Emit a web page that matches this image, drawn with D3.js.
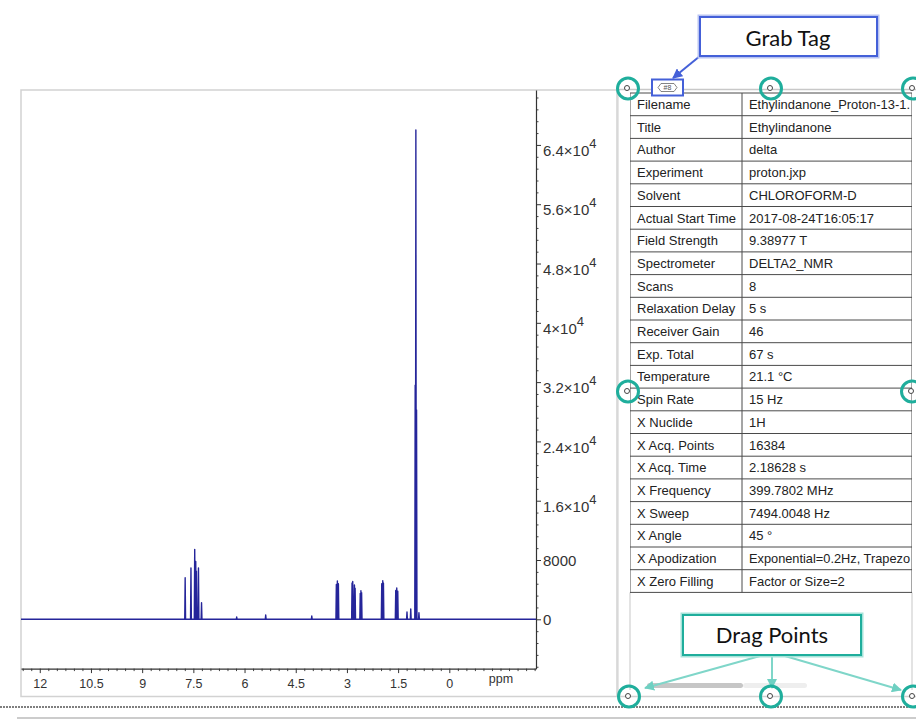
<!DOCTYPE html>
<html>
<head>
<meta charset="utf-8">
<script src="https://cdn.jsdelivr.net/npm/d3@7"></script>
<style>
	body { margin: 0; background: #fff; }
	svg { display: block; }
</style>
</head>
<body>
<svg id="chart" width="916" height="720"></svg>
<script>
"use strict"

// peak list (ppm, intensity)
var peakPpm = [7.74, 7.57, 7.46, 7.43, 7.41, 7.35, 7.26, 6.23, 5.38, 4.03,
	3.31, 3.28, 3.25, 2.85, 2.83, 2.78, 2.76, 2.61, 2.59, 2.57,
	1.98, 1.95, 1.93, 1.57, 1.54, 1.51, 1.24, 1.13, 1.00, 0.98, 0.96, 0.89];
var peakHeight = [5610, 6920, 9440, 7800, 6500, 6920, 2240, 310, 580, 445,
	4700, 5170, 4800, 4900, 5100, 4630, 4200, 3500, 3860, 3600,
	4800, 5210, 4900, 3900, 4220, 3800, 985, 1390, 31600, 66020, 28240, 890];

var xTickValues = [12, 10.5, 9, 7.5, 6, 4.5, 3, 1.5, 0, -1.5];
var xTickLabels = ["12", "10.5", "9", "7.5", "6", "4.5", "3", "1.5", "0", "ppm"];
var yTickValues = [0, 8000, 16000, 24000, 32000, 40000, 48000, 56000, 64000];
var yTickMantissa = ["0", "8000", "1.6", "2.4", "3.2", "4", "4.8", "5.6", "6.4"];
var yTickExponent = ["", "", "4", "4", "4", "4", "4", "4", "4"];

// table as far as it is visible in the panel
var paramNames = ["Filename", "Title", "Author", "Experiment", "Solvent", "Actual Start Time",
	"Field Strength", "Spectrometer", "Scans", "Relaxation Delay", "Receiver Gain", "Exp. Total",
	"Temperature", "Spin Rate", "X Nuclide", "X Acq. Points", "X Acq. Time", "X Frequency",
	"X Sweep", "X Angle", "X Apodization", "X Zero Filling"];
var paramValues = ["Ethylindanone_Proton-13-1.", "Ethylindanone", "delta", "proton.jxp",
	"CHLOROFORM-D", "2017-08-24T16:05:17", "9.38977 T", "DELTA2_NMR", "8", "5 s", "46", "67 s",
	"21.1 \u00B0C", "15 Hz", "1H", "16384", "2.18628 s", "399.7802 MHz", "7494.0048 Hz", "45 \u00B0",
	"Exponential=0.2Hz, Trapezo", "Factor or Size=2"];

var svg = d3.select("#chart");
var font = "'Liberation Sans', Arial, sans-serif";
var teal = "#1fae9c";
var blue = "#4460d8";

var plotLeft = 21, plotRight = 536, plotTop = 90, axisY = 668.6;

var x = d3.scaleLinear().domain([12.55, -2.54]).range([plotLeft, plotRight]);
var y = d3.scaleLinear().domain([-6650, 71410]).range([axisY, plotTop]);

// frame around the plot
svg.append("rect")
	.attr("x", 21).attr("y", 90)
	.attr("width", 596).attr("height", 606.5)
	.attr("fill", "none")
	.attr("stroke", "#d2d2d2")
	.attr("stroke-width", 1.5)
	;
svg.append("line")
	.attr("x1", 617).attr("x2", 916).attr("y1", 89.5).attr("y2", 89.5)
	.attr("stroke", "#c8c8c8").attr("stroke-width", 1.5)
	;
svg.append("line")
	.attr("x1", 617).attr("x2", 916).attr("y1", 696.5).attr("y2", 696.5)
	.attr("stroke", "#cfcfcf").attr("stroke-width", 1.5)
	;

// spectrum
svg.append("clipPath").attr("id", "plotClip")
	.append("rect")
	.attr("x", plotLeft).attr("y", plotTop)
	.attr("width", plotRight - plotLeft).attr("height", axisY - plotTop)
	;
var halfWidth = 0.012;
var order = d3.range(peakPpm.length).sort(function(a, b) { return peakPpm[b] - peakPpm[a]; });
var pts = [[x.domain()[0], 0]];
order.forEach(function(i) {
	pts.push([peakPpm[i] + halfWidth, 0]);
	pts.push([peakPpm[i], peakHeight[i]]);
	pts.push([peakPpm[i] - halfWidth, 0]);
});
pts.push([x.domain()[1], 0]);

svg.append("path")
	.datum(pts)
	.attr("clip-path", "url(#plotClip)")
	.attr("fill", "none")
	.attr("stroke", "#25259a")
	.attr("stroke-width", 1.4)
	.attr("stroke-linejoin", "round")
	.attr("d", d3.line().x(function(d) { return x(d[0]); }).y(function(d) { return y(d[1]); }))
	;

// x axis
var xMinor = d3.range(12.5, -2.51, -0.25).filter(function(v) {
	return Math.abs(v * 2 - Math.round(v * 2 / 3) * 3) > 1e-6;
});
svg.append("g")
	.attr("transform", "translate(0," + axisY + ")")
	.call(d3.axisBottom(x).tickValues(xMinor).tickSize(2.5).tickSizeOuter(0).tickFormat(""))
	.call(function(g) { g.select(".domain").remove(); })
	.selectAll("line").attr("stroke", "#444")
	;
var gx = svg.append("g")
	.attr("transform", "translate(0," + axisY + ")")
	.call(d3.axisBottom(x).tickValues(xTickValues).tickSize(4.5).tickSizeOuter(0)
		.tickFormat(function(d, i) { return xTickLabels[i]; }))
	;
gx.select(".domain").attr("stroke", "#333").attr("stroke-width", 1.2);
gx.selectAll(".tick line").attr("stroke", "#333");
gx.selectAll(".tick text")
	.attr("font-family", font)
	.attr("font-size", 12.5)
	.attr("fill", "#333")
	.attr("dy", function(d, i) { return i == xTickLabels.length - 1 ? "0.3em" : "0.71em"; })
	.attr("y", 11)
	;
gx.selectAll(".tick").filter(function(d, i) { return i == xTickLabels.length - 1; })
	.select("line").attr("y2", 2.5);

// y axis
var yMinor = d3.range(-6400, 70401, 1600).filter(function(v) { return v % 8000 != 0; });
svg.append("g")
	.attr("transform", "translate(" + plotRight + ",0)")
	.call(d3.axisRight(y).tickValues(yMinor).tickSize(2.5).tickSizeOuter(0).tickFormat(""))
	.call(function(g) { g.select(".domain").remove(); })
	.selectAll("line").attr("stroke", "#444")
	;
var gy = svg.append("g")
	.attr("transform", "translate(" + plotRight + ",0)")
	.call(d3.axisRight(y).tickValues(yTickValues).tickSize(5).tickSizeOuter(0).tickFormat(""))
	;
gy.select(".domain").attr("stroke", "#333").attr("stroke-width", 1.2);
gy.selectAll(".tick line").attr("stroke", "#333");
gy.selectAll(".tick").each(function(d, i) {
	var t = d3.select(this).append("text")
		.attr("x", 7)
		.attr("y", yTickExponent[i] ? 5.5 : 0)
		.attr("dy", "0.35em")
		.attr("font-family", font)
		.attr("font-size", 15)
		.attr("fill", "#333")
		;
	if (yTickExponent[i]) {
		t.append("tspan").text(yTickMantissa[i] + "\u00D710");
		t.append("tspan").attr("dy", -8).attr("font-size", 13).text(yTickExponent[i]);
	} else {
		t.text(yTickMantissa[i]);
	}
});

// parameter table
var tabLeft = 630, tabMid = 742, tabRight = 912, tabTop = 93, rowH = 22.7;
var tabBottom = tabTop + rowH * paramNames.length;

svg.append("line")
	.attr("x1", 618).attr("x2", 618).attr("y1", 90).attr("y2", 697)
	.attr("stroke", "#d6d6d6").attr("stroke-width", 1.2)
	;
svg.append("line")
	.attr("x1", tabLeft).attr("x2", tabLeft).attr("y1", tabBottom).attr("y2", 690)
	.attr("stroke", "#d0d0d0").attr("stroke-width", 1.2)
	;
svg.append("line")
	.attr("x1", tabRight).attr("x2", tabRight).attr("y1", tabBottom).attr("y2", 690)
	.attr("stroke", "#d0d0d0").attr("stroke-width", 1.2)
	;

svg.append("clipPath").attr("id", "tabClip")
	.append("rect")
	.attr("x", tabLeft).attr("y", tabTop - 2)
	.attr("width", tabRight - tabLeft).attr("height", tabBottom - tabTop + 4)
	;
var gt = svg.append("g").attr("clip-path", "url(#tabClip)");
gt.selectAll("text.name")
	.data(paramNames)
	.enter().append("text")
	.attr("class", "name")
	.attr("x", tabLeft + 7)
	.attr("y", function(d, i) { return tabTop + rowH * i + 16; })
	.attr("font-family", font).attr("font-size", 13).attr("fill", "#222")
	.text(function(d) { return d; })
	;
gt.selectAll("text.value")
	.data(paramValues)
	.enter().append("text")
	.attr("class", "value")
	.attr("x", tabMid + 7)
	.attr("y", function(d, i) { return tabTop + rowH * i + 16; })
	.attr("font-family", font).attr("font-size", 13).attr("fill", "#222")
	.attr("textLength", function(d) { return d.length > 24 ? 161 : null; })
	.attr("lengthAdjust", "spacingAndGlyphs")
	.text(function(d) { return d; })
	;
gt.selectAll("line.row")
	.data(d3.range(paramNames.length + 1))
	.enter().append("line")
	.attr("class", "row")
	.attr("x1", tabLeft).attr("x2", tabRight)
	.attr("y1", function(i) { return tabTop + rowH * i; })
	.attr("y2", function(i) { return tabTop + rowH * i; })
	.attr("stroke", "#4a4a4a").attr("stroke-width", 1)
	;
[tabLeft, tabMid, tabRight].forEach(function(cx) {
	gt.append("line")
		.attr("x1", cx).attr("x2", cx).attr("y1", tabTop).attr("y2", tabBottom)
		.attr("stroke", "#4a4a4a").attr("stroke-width", 1)
		;
});

// scroll bar
svg.append("rect")
	.attr("x", 743).attr("y", 683).attr("width", 64).attr("height", 5).attr("rx", 2.5)
	.attr("fill", "#eeeeee")
	;
svg.append("rect")
	.attr("x", 647).attr("y", 683).attr("width", 96).attr("height", 5).attr("rx", 2.5)
	.attr("fill", "#c6c6c6")
	;

// bottom separators
svg.append("line")
	.attr("x1", 0).attr("x2", 916).attr("y1", 707).attr("y2", 707)
	.attr("stroke", "#555").attr("stroke-width", 1.5).attr("stroke-dasharray", "2,1")
	;
svg.append("line")
	.attr("x1", 17).attr("x2", 916).attr("y1", 718).attr("y2", 718)
	.attr("stroke", "#cccccc").attr("stroke-width", 2)
	;

// arrow heads
var defs = svg.append("defs");
[["arrBlue", blue], ["arrTeal", "#6fd0c2"]].forEach(function(m) {
	defs.append("marker")
		.attr("id", m[0])
		.attr("viewBox", "0 0 10 10")
		.attr("refX", 9).attr("refY", 5)
		.attr("markerWidth", 5).attr("markerHeight", 5)
		.attr("orient", "auto")
		.append("path")
		.attr("d", "M 0 0 L 10 5 L 0 10 z")
		.attr("fill", m[1])
		;
});

// grab tag callout
svg.append("line")
	.attr("x1", 700).attr("y1", 56).attr("x2", 673).attr("y2", 78)
	.attr("stroke", blue).attr("stroke-width", 2)
	.attr("marker-end", "url(#arrBlue)")
	;
svg.append("rect")
	.attr("x", 700).attr("y", 17).attr("width", 177).attr("height", 39)
	.attr("fill", "#fff").attr("stroke", "#b9c4f2").attr("stroke-width", 5)
	;
svg.append("rect")
	.attr("x", 700).attr("y", 17).attr("width", 177).attr("height", 39)
	.attr("fill", "#fff").attr("stroke", blue).attr("stroke-width", 2)
	;
svg.append("text")
	.attr("x", 788).attr("y", 45.5)
	.attr("text-anchor", "middle")
	.attr("font-family", "Lato, 'Open Sans', sans-serif").attr("font-size", 22)
	.attr("fill", "#111")
	.text("Grab Tag")
	;
svg.append("rect")
	.attr("x", 652).attr("y", 79.5).attr("width", 31).attr("height", 16)
	.attr("fill", "#fff").attr("stroke", blue).attr("stroke-width", 2)
	;
svg.append("path")
	.attr("d", "M 658 87.5 L 661 83.5 H 674 L 677 87.5 L 674 91.5 H 661 Z")
	.attr("fill", "none").attr("stroke", "#666").attr("stroke-width", 0.8)
	;
svg.append("text")
	.attr("x", 667.5).attr("y", 90)
	.attr("text-anchor", "middle")
	.attr("font-family", font).attr("font-size", 7).attr("fill", "#555")
	.text("#8")
	;

// drag points callout
[[760, 656, 645, 688], [772, 656, 772, 688], [785, 656, 901, 690]].forEach(function(a) {
	svg.append("line")
		.attr("x1", a[0]).attr("y1", a[1]).attr("x2", a[2]).attr("y2", a[3])
		.attr("stroke", "#7fd6c9").attr("stroke-width", 2)
		.attr("marker-end", "url(#arrTeal)")
		;
});
svg.append("rect")
	.attr("x", 683).attr("y", 615).attr("width", 178).attr("height", 40)
	.attr("fill", "#fff").attr("stroke", "#a6e3da").attr("stroke-width", 5)
	;
svg.append("rect")
	.attr("x", 683).attr("y", 615).attr("width", 178).attr("height", 40)
	.attr("fill", "#fff").attr("stroke", teal).attr("stroke-width", 2)
	;
svg.append("text")
	.attr("x", 772).attr("y", 643)
	.attr("text-anchor", "middle")
	.attr("font-family", "Lato, 'Open Sans', sans-serif").attr("font-size", 22)
	.attr("fill", "#111")
	.text("Drag Points")
	;

// drag point handles
var handles = [[628, 88.5], [771, 88.5], [913, 88.5], [628, 391.5], [912, 391.5],
	[629, 696.5], [771, 696.5], [913, 696.5]];
handles.forEach(function(h) {
	svg.append("circle")
		.attr("cx", h[0]).attr("cy", h[1]).attr("r", 10.5)
		.attr("fill", "none").attr("stroke", teal).attr("stroke-width", 3)
		;
	svg.append("circle")
		.attr("cx", h[0] - 1).attr("cy", h[1] - 0.5).attr("r", 2.5)
		.attr("fill", "#fff").attr("stroke", "#444").attr("stroke-width", 1)
		;
});
</script>
</body>
</html>
